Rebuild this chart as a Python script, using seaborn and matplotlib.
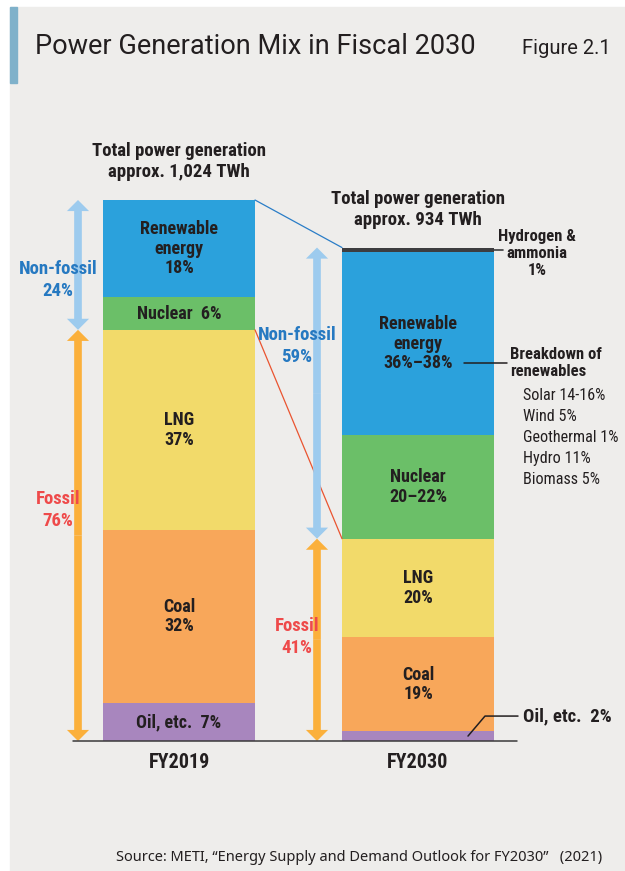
import matplotlib
matplotlib.use("Agg")
import matplotlib.pyplot as plt
from matplotlib import font_manager
from matplotlib.font_manager import FontProperties
from matplotlib.patches import Rectangle
import seaborn as sns
import pandas as pd

# ---- data -------------------------------------------------------------
years = ["FY2019", "FY2030"]
total_twh = [1024, 934]
sources = ["Oil, etc.", "Coal", "LNG", "Nuclear", "Renewable energy", "Hydrogen & ammonia"]
share_2019 = [7, 32, 37, 6, 18, 0]
share_2030 = [2, 19, 20, 21, 37, 1]
non_fossil_pct = [24, 59]
fossil_pct = [76, 41]
labels_2019 = ["Oil, etc.  7%", "Coal\n32%", "LNG\n37%", "Nuclear  6%", "Renewable\nenergy\n18%", ""]
labels_2030 = ["", "Coal\n19%", "LNG\n20%", "Nuclear\n20\u201322%", "Renewable\nenergy\n36%\u201338%", ""]
renew_parts = ["Solar 14-16%", "Wind 5%", "Geothermal 1%", "Hydro 11%", "Biomass 5%"]

colors = ["#a886be", "#f8a75a", "#f2da6a", "#6bbf68", "#2ba1dc", "#3d3d3f"]
DARK = "#231f20"
BLUE_TXT = "#2679c1"
RED_TXT = "#ee4a4a"
ARROW_BLUE = "#9dcbee"
ARROW_ORANGE = "#fbb03b"

sns.set_theme(style="white")
plt.rcParams["font.family"] = ["DejaVu Sans"]


# look for a narrow sans face (the original uses a condensed typeface)
def narrow_font(bold):
    prefs = ["Liberation Sans Narrow", "Noto Sans Condensed", "Roboto Condensed",
             "Open Sans Condensed", "DejaVu Sans"]
    found = {}
    for f in font_manager.fontManager.ttflist:
        if f.style != "normal" or "Mono" in f.name:
            continue
        is_bold = f.weight in (600, 700, "bold", "semibold", "demibold")
        if is_bold != bold:
            continue
        cond = ("Narrow" in f.name or "Condensed" in f.name or f.stretch == "condensed")
        if not cond or "Extra" in f.name or "Semi" in f.name or "Ultra" in f.name:
            continue
        found.setdefault(f.name, f.fname)
    for p in prefs:
        if p in found:
            return found[p]
    if found:
        return sorted(found.values())[0]
    return font_manager.findfont(FontProperties(family="Roboto",
                                                weight="bold" if bold else "normal"))


BOLD_PATH = narrow_font(True)
REG_PATH = narrow_font(False)


def fb(size):
    return FontProperties(fname=BOLD_PATH, size=size)


def fr(size):
    return FontProperties(fname=REG_PATH, size=size)


# long table with cumulative tops per year
rows = []
for yr, tot, shares in zip(years, total_twh, [share_2019, share_2030]):
    cum = 0
    for src, s in zip(sources, shares):
        twh = tot * s / 100
        rows.append({"year": yr, "source": src, "bottom": cum, "top": cum + twh})
        cum += twh
df = pd.DataFrame(rows)

# ---- canvas -----------------------------------------------------------
W, H = 625, 871
fig = plt.figure(figsize=(W / 100, H / 100), dpi=100)
fig.patch.set_facecolor("white")
fig.patches.append(Rectangle((10 / W, 0), 1 - 10 / W, (H - 7) / H, transform=fig.transFigure,
                             color="#eeedeb", zorder=-2))
fig.patches.append(Rectangle((10 / W, (H - 83) / H), 7 / W, 76 / H, transform=fig.transFigure,
                             color="#7fb1ca", zorder=-1))

ax = fig.add_axes([0, 0, 1, 1])
ax.set_facecolor("none")

BAR_W = 152 / 239
# stacked bars: draw cumulative tops, tallest layer first
for src, col in reversed(list(zip(sources, colors))):
    sub = df[df["source"] == src]
    sns.barplot(data=sub, x="year", y="top", order=years, color=col, saturation=1,
                width=BAR_W, linewidth=0, errorbar=None, ax=ax)

# map data units to the picture: 239 px between bars, 541 px for 1024 TWh
PX_X = 239
PX_Y = 541 / 1024
ax.set_xlim(-179 / PX_X, (W - 179) / PX_X)
ax.set_ylim(-130 / PX_Y, (H - 130) / PX_Y)
ax.axis("off")


def dx(px):
    return px / PX_X


def dy(px):
    return px / PX_Y


def seg(yr, src):
    r = df[(df["year"] == yr) & (df["source"] == src)].iloc[0]
    return r["bottom"], r["top"]


# baseline
ax.plot([-dx(106), 1 + dx(99)], [0, 0], color="#3a3a3a", lw=1.1, zorder=3)

# connectors between the bars
half = BAR_W / 2
ax.plot([half, 1 - half], [total_twh[0], total_twh[1]], color="#2a7dc7", lw=0.9)
ax.plot([half, 1 - half], [seg("FY2019", "LNG")[1], seg("FY2030", "LNG")[1]],
        color="#ea5430", lw=0.9)

# in-bar labels
for i, (yr, labs) in enumerate(zip(years, [labels_2019, labels_2030])):
    for src, lab in zip(sources, labs):
        if lab:
            b, t = seg(yr, src)
            ax.text(i, (b + t) / 2, lab, ha="center", va="center", fontproperties=fb(13),
                    color=DARK, linespacing=1.1, zorder=5)

# header and category labels
for i, (yr, tot) in enumerate(zip(years, total_twh)):
    top = df[df["year"] == yr]["top"].max()
    ax.text(i, top + dy(19), f"Total power generation\napprox. {tot:,} TWh", ha="center",
            va="bottom", fontproperties=fb(13.5), color=DARK, linespacing=1.2)
    ax.text(i, -dy(21), yr, ha="center", va="center", fontproperties=fb(14.5), color=DARK)


# double headed arrows
def span_arrow(x, y0, y1, color):
    mid = (y0 + y1) / 2
    for end in (y0, y1):
        ax.annotate("", xy=(x, end), xytext=(x, mid),
                    arrowprops=dict(arrowstyle="simple,head_length=0.55,head_width=1.1,tail_width=0.38",
                                    mutation_scale=14.5, fc=color, ec="none", lw=0,
                                    shrinkA=0, shrinkB=0), zorder=2)


label_y = {"FY2019": (dy(461), dy(231)), "FY2030": (dy(395), dy(104))}
for i, yr in enumerate(years):
    fossil_top = seg(yr, "LNG")[1]
    top = df[df["year"] == yr]["top"].max()
    xa = i - half - dx(25)
    span_arrow(xa, fossil_top, top, ARROW_BLUE)
    span_arrow(xa, 0, fossil_top, ARROW_ORANGE)
    xl = i - dx(121)
    nf_y, f_y = label_y[yr]
    ax.text(xl, nf_y, f"Non-fossil\n{non_fossil_pct[i]}%", ha="center", va="center",
            fontproperties=fb(13.5), color=BLUE_TXT, linespacing=1.35, zorder=5)
    ax.text(xl, f_y, f"Fossil\n{fossil_pct[i]}%", ha="center", va="center",
            fontproperties=fb(13.5), color=RED_TXT, linespacing=1.35, zorder=5)

# FY2030 call-outs
right = 1 + half
hb, ht = seg("FY2030", "Hydrogen & ammonia")
ax.plot([right, right + dx(9)], [(hb + ht) / 2] * 2, color="#3d3d3f", lw=1.2)
ax.text(1 + dx(119), ht - dy(6), "Hydrogen &\nammonia\n1%", ha="center", va="center",
        fontproperties=fb(12), color=DARK, linespacing=1.15)

rb, rt = seg("FY2030", "Renewable energy")
ly = (rb + rt) / 2 - dy(19)
ax.plot([1 + dx(46), 1 + dx(89)], [ly, ly], color=DARK, lw=1.1)
ax.text(1 + dx(92), ly, "Breakdown of\nrenewables", ha="left", va="center",
        fontproperties=fb(12), color=DARK, linespacing=1.2)
for k, part in enumerate(renew_parts):
    ax.text(1 + dx(105), ly - dy(33 + 21 * k), part, ha="left", va="center",
            fontproperties=fr(11.6), color=DARK)

ob, ot = seg("FY2030", "Oil, etc.")
oy = (ob + ot) / 2
ax.plot([1 + dx(50), 1 + dx(67), 1 + dx(100)], [oy, oy + dy(20), oy + dy(20)],
        color=DARK, lw=1.1)
ax.text(1 + dx(105), oy + dy(20), f"Oil, etc.  {share_2030[0]}%", ha="left", va="center",
        fontproperties=fb(13.5), color=DARK)

# title and source
fig.text(35 / W, 1 - 47 / H, "Power Generation Mix in Fiscal 2030", ha="left", va="center",
         fontsize=19.5, family=["Roboto", "DejaVu Sans"], color=DARK)
fig.text(522 / W, 1 - 48 / H, "Figure 2.1", ha="left", va="center", fontsize=14.5,
         family=["Roboto", "DejaVu Sans"], color=DARK)
fig.text(602 / W, 1 - 857 / H,
         "Source: METI, \u201cEnergy Supply and Demand Outlook for FY2030\u201d   (2021)",
         ha="right", va="center", fontsize=10.5, family=["Noto Sans", "DejaVu Sans"], color=DARK)

fig.savefig("out.png", dpi=100)
